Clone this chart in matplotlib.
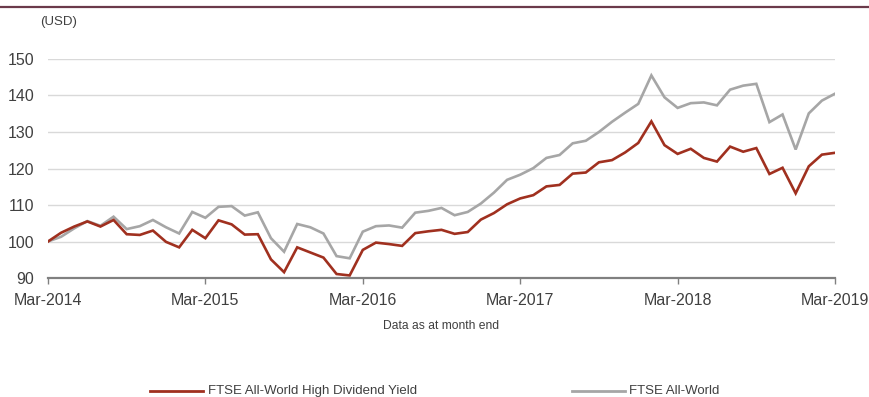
import numpy as np
import matplotlib.pyplot as plt
from matplotlib.lines import Line2D

# monthly index values, Mar-2014 .. Mar-2019 (rebased to 100)
high_div = [100.0, 102.4, 104.1, 105.5, 104.1, 105.9, 102.0, 101.8, 103.0, 99.9,
            98.4, 103.2, 100.9, 105.8, 104.7, 101.9, 102.0, 95.1, 91.6, 98.4,
            97.0, 95.6, 91.1, 90.7, 97.7, 99.7, 99.3, 98.8, 102.3, 102.8,
            103.2, 102.1, 102.6, 106.0, 107.8, 110.2, 111.8, 112.7, 115.1, 115.5,
            118.6, 118.9, 121.7, 122.3, 124.4, 127.0, 132.9, 126.4, 124.0, 125.4,
            122.9, 121.9, 126.0, 124.6, 125.6, 118.5, 120.2, 113.2, 120.6, 123.8,
            124.3]
all_world = [100.0, 101.3, 103.6, 105.6, 104.3, 106.8, 103.4, 104.2, 105.9, 103.9,
             102.2, 108.1, 106.5, 109.5, 109.7, 107.1, 108.0, 100.9, 97.2, 104.8,
             103.9, 102.2, 96.0, 95.4, 102.7, 104.2, 104.4, 103.8, 107.9, 108.4,
             109.2, 107.2, 108.1, 110.4, 113.4, 116.9, 118.3, 120.1, 122.9, 123.7,
             126.9, 127.6, 130.0, 132.8, 135.3, 137.7, 145.5, 139.5, 136.6, 137.9,
             138.1, 137.3, 141.6, 142.7, 143.2, 132.7, 134.8, 125.2, 135.1, 138.6,
             140.5]
year_labels = ['Mar-2014', 'Mar-2015', 'Mar-2016', 'Mar-2017', 'Mar-2018', 'Mar-2019']
y_ticks = [90, 100, 110, 120, 130, 140, 150]
series_names = ['FTSE All-World High Dividend Yield', 'FTSE All-World']

RED = '#a0301f'
GREY = '#a6a6a6'
TXT = '#404040'

plt.rcParams['font.family'] = ['Liberation Sans', 'DejaVu Sans']

fig = plt.figure(figsize=(8.69, 3.97), dpi=100)
ax = fig.add_axes([0.0552, 0.2997, 0.9057, 0.5517])

months = np.arange(len(high_div))
ax.plot(months, all_world, color=GREY, lw=1.9, solid_joinstyle='miter')
ax.plot(months, high_div, color=RED, lw=1.9, solid_joinstyle='miter')

ax.set_xlim(0, 60)
ax.set_ylim(90, 150)
ax.set_xticks(np.arange(0, 61, 12))
ax.set_xticklabels(year_labels)
ax.set_yticks(y_ticks)
for v in y_ticks[1:]:
    ax.axhline(v, color='#d9d9d9', lw=1, zorder=0)

for s in ['top', 'right', 'left']:
    ax.spines[s].set_visible(False)
ax.spines['bottom'].set_color('#808080')
ax.spines['bottom'].set_linewidth(1.6)
ax.tick_params(axis='x', colors='#808080', length=4, width=1, labelcolor=TXT,
               labelsize=11.5, pad=7)
ax.tick_params(axis='y', length=0, labelcolor=TXT, labelsize=11.5, pad=10)

fig.text(0.046, 0.945, '(USD)', fontsize=9.5, color=TXT, ha='left', va='center')
fig.text(0.507, 0.178, 'Data as at month end', fontsize=8.7, color=TXT,
         ha='center', va='center')

# top rule
fig.add_artist(Line2D([0, 1], [0.982, 0.982], color='#6b3a4a', lw=1.6))

# legend
for x0, col, name in [(0.173, RED, series_names[0]), (0.658, GREY, series_names[1])]:
    fig.add_artist(Line2D([x0, x0 + 0.061], [0.016, 0.016], color=col, lw=2))
    fig.text(x0 + 0.066, 0.016, name, fontsize=9.5, color=TXT, ha='left', va='center')

fig.savefig('out.png', dpi=100)
